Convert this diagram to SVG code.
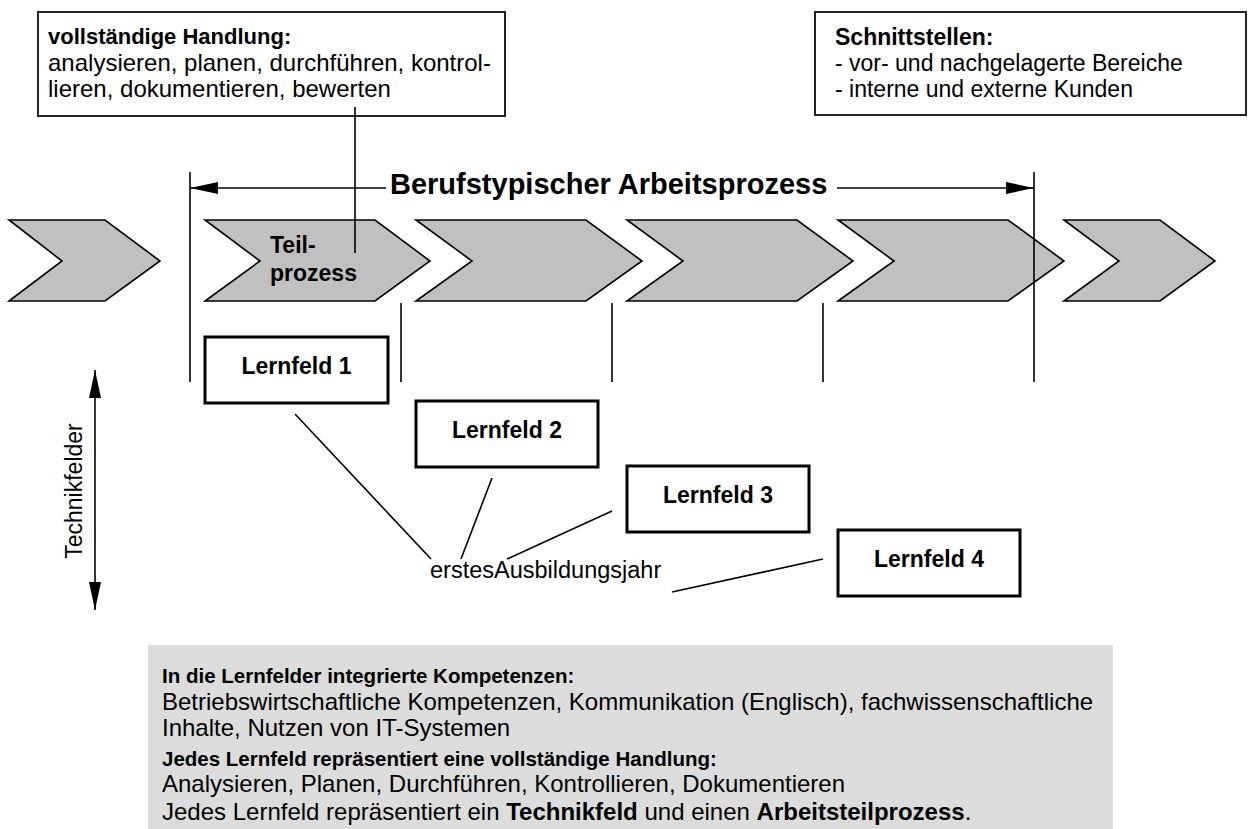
<svg xmlns="http://www.w3.org/2000/svg" width="1255" height="829" viewBox="0 0 1255 829">
<defs>
<style>
text{font-family:"Liberation Sans",Arial,sans-serif;fill:#000}
.b{font-weight:bold}
.t23{font-size:23px}
.t24{font-size:24px}
.h20{font-size:20.5px;font-weight:bold}
.chev{fill:#c0c0c0;stroke:#000;stroke-width:1.6;stroke-linejoin:miter}
.note{fill:#fff;stroke:#222;stroke-width:2}
.lf{fill:#fff;stroke:#000;stroke-width:3}
.ln{stroke:#000;stroke-width:1.6;fill:none}
</style>
<marker id="ah" viewBox="0 0 28 12" refX="28" refY="6" markerWidth="28" markerHeight="12" markerUnits="userSpaceOnUse" orient="auto">
<path d="M0,0 L28,6 L0,12 Z" fill="#000"/>
</marker>
<marker id="ahs" viewBox="0 0 28 12" refX="28" refY="6" markerWidth="28" markerHeight="12" markerUnits="userSpaceOnUse" orient="auto-start-reverse">
<path d="M0,0 L28,6 L0,12 Z" fill="#000"/>
</marker>
</defs>
<rect width="1255" height="829" fill="#fff"/>

<g id="chevrons">
<polygon class="chev" points="9,220 105,220 160,261 105,301 9,301 62,261"/>
<polygon class="chev" points="205,220 375,220 430,261 375,301 205,301 260,261"/>
<polygon class="chev" points="416,220 586,220 642,261 586,301 416,301 472,261"/>
<polygon class="chev" points="627,220 797,220 853,261 797,301 627,301 683,261"/>
<polygon class="chev" points="838,220 1008,220 1064,261 1008,301 838,301 894,261"/>
<polygon class="chev" points="1064,220 1160,220 1215,261 1160,301 1064,301 1119,261"/>
<text class="b t23" x="270" y="253">Teil-</text>
<text class="b t23" x="270" y="281">prozess</text>
</g>

<g id="note-handlung">
<rect class="note" x="38" y="12" width="467" height="104"/>
<text class="b" style="font-size:22px" x="48" y="44">vollständige Handlung:</text>
<text class="t24" x="48" y="71">analysieren, planen, durchführen, kontrol-</text>
<text class="t24" x="48" y="97">lieren, dokumentieren, bewerten</text>
</g>

<g id="note-schnittstellen">
<rect class="note" x="815" y="12" width="431" height="103"/>
<text class="t23 b" x="835" y="45">Schnittstellen:</text>
<text class="t23" x="835" y="71">- vor- und nachgelagerte Bereiche</text>
<text class="t23" x="835" y="97">- interne und externe Kunden</text>
</g>

<g id="title">
<text class="b" style="font-size:29px" x="390" y="194">Berufstypischer Arbeitsprozess</text>
</g>

<g id="lernfeld-1">
<rect class="lf" x="205" y="337" width="183" height="66"/>
<text class="b t23" x="296.5" y="374" text-anchor="middle">Lernfeld 1</text>
</g>
<g id="lernfeld-2">
<rect class="lf" x="416" y="401" width="182" height="66"/>
<text class="b t23" x="507" y="438" text-anchor="middle">Lernfeld 2</text>
</g>
<g id="lernfeld-3">
<rect class="lf" x="627" y="466" width="182" height="66"/>
<text class="b t23" x="718" y="503" text-anchor="middle">Lernfeld 3</text>
</g>
<g id="lernfeld-4">
<rect class="lf" x="838" y="530" width="182" height="66"/>
<text class="b t23" x="929" y="567" text-anchor="middle">Lernfeld 4</text>
</g>

<g id="ausbildungsjahr">
<text style="font-size:23.5px" x="430" y="578">erstesAusbildungsjahr</text>
</g>

<g id="technikfelder">
<text class="t23" transform="translate(82,491) rotate(-90)" text-anchor="middle">Technikfelder</text>
</g>

<g id="kompetenzen">
<rect x="148" y="645" width="965" height="190" fill="#dcdcdc"/>
<text class="h20" x="162" y="683">In die Lernfelder integrierte Kompetenzen:</text>
<text class="t24" x="162" y="710">Betriebswirtschaftliche Kompetenzen, Kommunikation (Englisch), fachwissenschaftliche</text>
<text class="t24" x="162" y="736">Inhalte, Nutzen von IT-Systemen</text>
<text class="h20" x="162" y="766">Jedes Lernfeld repräsentiert eine vollständige Handlung:</text>
<text class="t24" x="162" y="792">Analysieren, Planen, Durchführen, Kontrollieren, Dokumentieren</text>
<text class="t24" x="162" y="820">Jedes Lernfeld repräsentiert ein <tspan class="b">Technikfeld</tspan> und einen <tspan class="b">Arbeitsteilprozess</tspan>.</text>
</g>

<g id="connectors">
<line class="ln" x1="190" y1="172" x2="190" y2="382"/>
<line class="ln" x1="1034" y1="172" x2="1034" y2="382"/>
<line class="ln" x1="401" y1="303" x2="401" y2="382"/>
<line class="ln" x1="612" y1="303" x2="612" y2="382"/>
<line class="ln" x1="823" y1="303" x2="823" y2="382"/>
<line class="ln" x1="386" y1="188" x2="190" y2="188" marker-end="url(#ah)"/>
<line class="ln" x1="837" y1="188" x2="1034" y2="188" marker-end="url(#ah)"/>
<line class="ln" x1="355" y1="107" x2="355" y2="253"/>
<line class="ln" x1="95" y1="370" x2="95" y2="610" marker-start="url(#ahs)" marker-end="url(#ah)"/>
<line class="ln" x1="295" y1="414" x2="431" y2="559"/>
<line class="ln" x1="492" y1="478" x2="461" y2="559"/>
<line class="ln" x1="612" y1="511" x2="507" y2="559"/>
<line class="ln" x1="823" y1="559" x2="672" y2="592"/>
</g>
</svg>
